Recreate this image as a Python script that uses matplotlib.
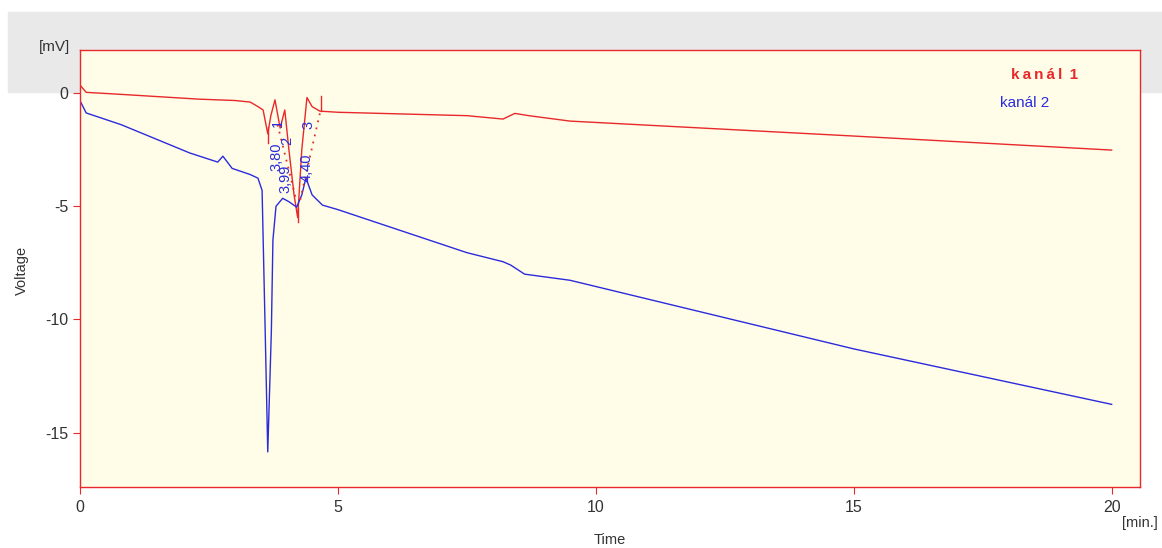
import numpy as np
import matplotlib
matplotlib.use("Agg")
import matplotlib.pyplot as plt
from matplotlib.patches import Rectangle

plt.rcParams['font.family'] = ['Liberation Sans', 'DejaVu Sans']

# kanal 1 (red)
t1 = [0, 0.12, 0.8, 2.3, 3.0, 3.3, 3.45, 3.55, 3.64, 3.7, 3.78, 3.88, 3.97,
      4.05, 4.15, 4.22, 4.3, 4.4, 4.5, 4.65, 5.0, 7.5, 8.2, 8.43, 8.7, 9.5,
      15, 20]
v1 = [0.35, 0.03, -0.06, -0.27, -0.33, -0.4, -0.6, -0.75, -1.8, -1.0, -0.3,
      -1.55, -0.75, -2.5, -4.5, -5.5, -2.5, -0.2, -0.6, -0.8, -0.85, -1.0,
      -1.15, -0.9, -1.0, -1.24, -1.9, -2.52]

# kanal 2 (blue)
t2 = [0, 0.12, 0.8, 2.13, 2.67, 2.77, 2.95, 3.3, 3.45, 3.53, 3.59, 3.64,
      3.71, 3.74, 3.8, 3.93, 4.05, 4.2, 4.3, 4.38, 4.5, 4.7, 5.0, 7.5, 8.2,
      8.35, 8.62, 9.5, 15, 20]
v2 = [-0.34, -0.88, -1.4, -2.65, -3.05, -2.79, -3.33, -3.6, -3.76, -4.3,
      -10.5, -15.85, -10.5, -6.5, -5.0, -4.65, -4.8, -5.04, -4.5, -3.75,
      -4.5, -4.95, -5.15, -7.05, -7.45, -7.6, -8.0, -8.27, -11.3, -13.75]

# peak markers: (time, label, index)
peak_t = [3.80, 3.99, 4.40]
peak_lbl = ["3,80", "3,99", "4,40"]
peak_idx = ["1", "2", "3"]
lbl_y = [-2.8, -3.77, -3.3]
idx_y = [-1.3, -2.1, -1.4]

# drop lines and integration baselines of kanal 1
drops = [(3.64, -1.5, -2.2), (4.22, -5.1, -5.7), (4.68, -0.13, -0.8)]
base1 = ([3.83, 4.2], [-1.4, -4.8])
base2 = ([4.65, 4.25], [-0.9, -4.9])

red = "#e8282a"
blue = "#2b2bdc"
txt = "#333333"

fig = plt.figure(figsize=(11.62, 5.48), dpi=100)
fig.patches.append(Rectangle((8 / 1162, 1 - 92 / 548), 1, 80 / 548,
                             transform=fig.transFigure, color="#e9e9e9",
                             zorder=-5))
ax = fig.add_axes([80 / 1162, 61 / 548, 1060 / 1162, 437 / 548])
ax.set_zorder(2)
ax.set_facecolor("#fffde8")
for s in ax.spines.values():
    s.set_color(red)
    s.set_linewidth(1)

ax.plot(t1, v1, color=red, lw=1)
ax.plot(t2, v2, color=blue, lw=1)
for x, a, b in drops:
    ax.plot([x, x], [a, b], color=red, lw=1)
ax.plot(base1[0], base1[1], color=red, lw=1.3, ls=(0, (1, 3)))
ax.plot(base2[0], base2[1], color=red, lw=1.3, ls=(0, (1, 3)))

for x, l, i, ly, iy in zip(peak_t, peak_lbl, peak_idx, lbl_y, idx_y):
    ax.text(x, ly, l, rotation=90, color=blue, fontsize=10.5,
            ha="center", va="center")
    ax.text(x + 0.03, iy, i, rotation=90, color=blue, fontsize=10.5,
            ha="center", va="center")

ax.set_xlim(0, 20.55)
ax.set_ylim(-17.4, 1.9)
ax.set_xticks([0, 5, 10, 15, 20])
ax.set_yticks([-15, -10, -5, 0])
ax.set_yticklabels(["-15", "-10", "-5", "0"])
ax.tick_params(colors=red, labelcolor=txt, labelsize=11.5, length=5)
ax.tick_params(axis="x", pad=4)

fig.text(55 / 1162, 1 - 47 / 548, "[mV]", ha="center", va="center",
         fontsize=11, color=txt)
fig.text(22 / 1162, 1 - 270 / 548, "Voltage", rotation=90, ha="center",
         va="center", fontsize=10.5, color=txt)
fig.text(610 / 1162, 1 - 540 / 548, "Time", ha="center", va="center",
         fontsize=10.5, color=txt)
fig.text(1140 / 1162, 1 - 523 / 548, "[min.]", ha="center", va="center",
         fontsize=10.5, color=txt)
fig.text(1045 / 1162, 1 - 75 / 548, "k\u2009a\u2009n\u2009á\u2009l\u2009 1",
         ha="center", va="center", fontsize=11, color=red, fontweight="bold")
fig.text(1025 / 1162, 1 - 103 / 548, "kanál 2", ha="center", va="center",
         fontsize=11, color=blue)

fig.savefig("out.png", dpi=100)
